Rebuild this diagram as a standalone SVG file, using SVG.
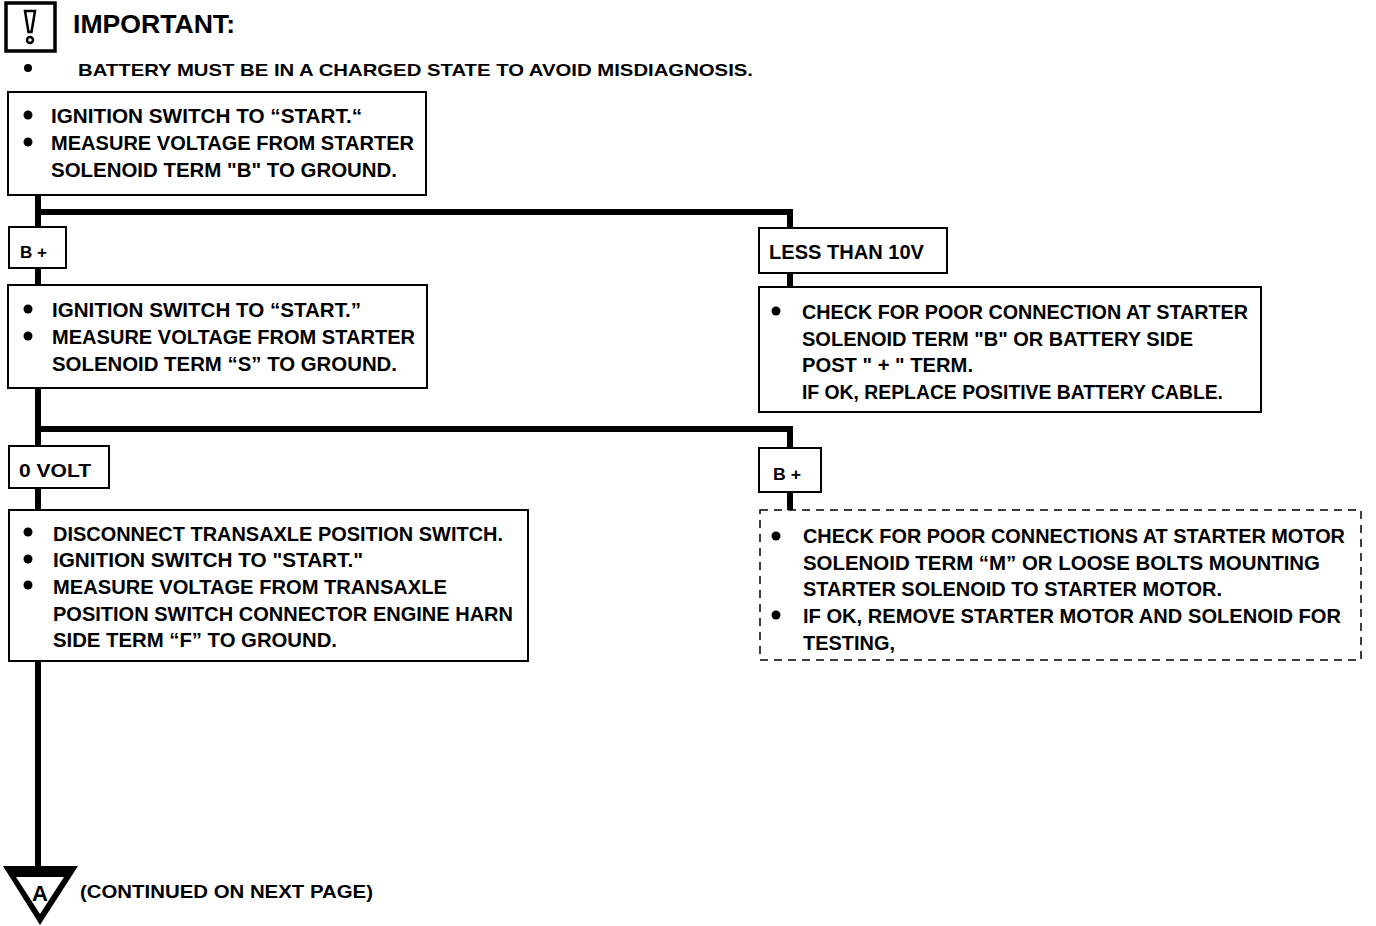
<svg xmlns="http://www.w3.org/2000/svg" width="1376" height="926" viewBox="0 0 1376 926">
<style>
text{font-family:"Liberation Sans",Arial,sans-serif;font-weight:bold;fill:#000;}
.t{font-size:20px;}
.box{fill:#fff;stroke:#000;stroke-width:2;}
.dash{fill:#fff;stroke:#000;stroke-width:1.5;stroke-dasharray:8,6;}
.conn{fill:none;stroke:#000;stroke-width:6;stroke-linejoin:miter;}
.dot{fill:#000;}
</style>
<rect width="1376" height="926" fill="#fff"/>
<g id="connectors">
<path class="conn" d="M38,195 V228 M38,268 V286 M38,212 H790 V229"/>
<path class="conn" d="M790,273 V288"/>
<path class="conn" d="M38,388 V447 M38,488 V511 M38,429 H790 V449"/>
<path class="conn" d="M790,492 V511"/>
<path class="conn" d="M38,661 V870"/>
</g>
<g id="important">
<rect x="6" y="3" width="49" height="48" fill="#fff" stroke="#000" stroke-width="3.5"/>
<path d="M25,11 L35,11 L31.5,32 L28.5,32 Z" fill="none" stroke="#000" stroke-width="2.5"/>
<circle cx="30" cy="40" r="3" fill="none" stroke="#000" stroke-width="2.5"/>
<text x="73" y="33" font-size="25" textLength="162" lengthAdjust="spacingAndGlyphs">IMPORTANT:</text>
<circle class="dot" cx="28" cy="68" r="4"/>
<text x="78" y="76" font-size="17" textLength="675" lengthAdjust="spacingAndGlyphs">BATTERY MUST BE IN A CHARGED STATE TO AVOID MISDIAGNOSIS.</text>
</g>
<g id="box1">
<rect class="box" x="8" y="92" width="418" height="103"/>
<circle class="dot" cx="28" cy="115" r="4.5"/>
<circle class="dot" cx="28" cy="142" r="4.5"/>
<text class="t" x="51" y="123" textLength="311" lengthAdjust="spacingAndGlyphs">IGNITION SWITCH TO “START.“</text>
<text class="t" x="51" y="150" textLength="363" lengthAdjust="spacingAndGlyphs">MEASURE VOLTAGE FROM STARTER</text>
<text class="t" x="51" y="177" textLength="346" lengthAdjust="spacingAndGlyphs">SOLENOID TERM "B" TO GROUND.</text>
</g>
<g id="bplus1">
<rect class="box" x="9" y="227" width="57" height="41"/>
<text x="20" y="258" font-size="17" textLength="27" lengthAdjust="spacingAndGlyphs">B +</text>
</g>
<g id="lessthan">
<rect class="box" x="759" y="228" width="188" height="45"/>
<text class="t" x="769" y="259" font-size="18" textLength="155" lengthAdjust="spacingAndGlyphs">LESS THAN 10V</text>
</g>
<g id="box2">
<rect class="box" x="8" y="285" width="419" height="103"/>
<circle class="dot" cx="28" cy="309" r="4.5"/>
<circle class="dot" cx="28" cy="336" r="4.5"/>
<text class="t" x="52" y="317" textLength="309" lengthAdjust="spacingAndGlyphs">IGNITION SWITCH TO “START.”</text>
<text class="t" x="52" y="344" textLength="363" lengthAdjust="spacingAndGlyphs">MEASURE VOLTAGE FROM STARTER</text>
<text class="t" x="52" y="371" textLength="345" lengthAdjust="spacingAndGlyphs">SOLENOID TERM “S” TO GROUND.</text>
</g>
<g id="box4">
<rect class="box" x="759" y="287" width="502" height="125"/>
<circle class="dot" cx="776" cy="311" r="4.5"/>
<text class="t" x="802" y="319" textLength="446" lengthAdjust="spacingAndGlyphs">CHECK FOR POOR CONNECTION AT STARTER</text>
<text class="t" x="802" y="346" textLength="391" lengthAdjust="spacingAndGlyphs">SOLENOID TERM "B" OR BATTERY SIDE</text>
<text class="t" x="802" y="372" textLength="171" lengthAdjust="spacingAndGlyphs">POST " + " TERM.</text>
<text class="t" x="802" y="399" textLength="421" lengthAdjust="spacingAndGlyphs">IF OK, REPLACE POSITIVE BATTERY CABLE.</text>
</g>
<g id="zerovolt">
<rect class="box" x="9" y="446" width="100" height="42"/>
<text x="19" y="477" font-size="18" textLength="72" lengthAdjust="spacingAndGlyphs">0 VOLT</text>
</g>
<g id="bplus2">
<rect class="box" x="759" y="448" width="62" height="44"/>
<text x="773" y="480" font-size="17" textLength="28" lengthAdjust="spacingAndGlyphs">B +</text>
</g>
<g id="box3">
<rect class="box" x="9" y="510" width="519" height="151"/>
<circle class="dot" cx="28" cy="532" r="4.5"/>
<circle class="dot" cx="28" cy="559" r="4.5"/>
<circle class="dot" cx="28" cy="585" r="4.5"/>
<text class="t" x="53" y="541" textLength="450" lengthAdjust="spacingAndGlyphs">DISCONNECT TRANSAXLE POSITION SWITCH.</text>
<text class="t" x="53" y="567" textLength="310" lengthAdjust="spacingAndGlyphs">IGNITION SWITCH TO "START."</text>
<text class="t" x="53" y="594" textLength="394" lengthAdjust="spacingAndGlyphs">MEASURE VOLTAGE FROM TRANSAXLE</text>
<text class="t" x="53" y="621" textLength="460" lengthAdjust="spacingAndGlyphs">POSITION SWITCH CONNECTOR ENGINE HARN</text>
<text class="t" x="53" y="647" textLength="284" lengthAdjust="spacingAndGlyphs">SIDE TERM “F” TO GROUND.</text>
</g>
<g id="box5">
<rect class="dash" x="760" y="510" width="601" height="150"/>
<circle class="dot" cx="776" cy="536" r="4.5"/>
<circle class="dot" cx="776" cy="615" r="4.5"/>
<text class="t" x="803" y="543" textLength="542" lengthAdjust="spacingAndGlyphs">CHECK FOR POOR CONNECTIONS AT STARTER MOTOR</text>
<text class="t" x="803" y="570" textLength="517" lengthAdjust="spacingAndGlyphs">SOLENOID TERM “M” OR LOOSE BOLTS MOUNTING</text>
<text class="t" x="803" y="596" textLength="419" lengthAdjust="spacingAndGlyphs">STARTER SOLENOID TO STARTER MOTOR.</text>
<text class="t" x="803" y="623" textLength="538" lengthAdjust="spacingAndGlyphs">IF OK, REMOVE STARTER MOTOR AND SOLENOID FOR</text>
<text class="t" x="803" y="650" textLength="92" lengthAdjust="spacingAndGlyphs">TESTING,</text>
</g>
<g id="continued">
<polygon points="3,866 78,866 40,925" fill="#000"/>
<polygon points="16,877 64,877 40,914" fill="#fff"/>
<text x="40" y="901" font-size="22" text-anchor="middle">A</text>
<text x="80" y="898" font-size="18" textLength="293" lengthAdjust="spacingAndGlyphs">(CONTINUED ON NEXT PAGE)</text>
</g>
</svg>
